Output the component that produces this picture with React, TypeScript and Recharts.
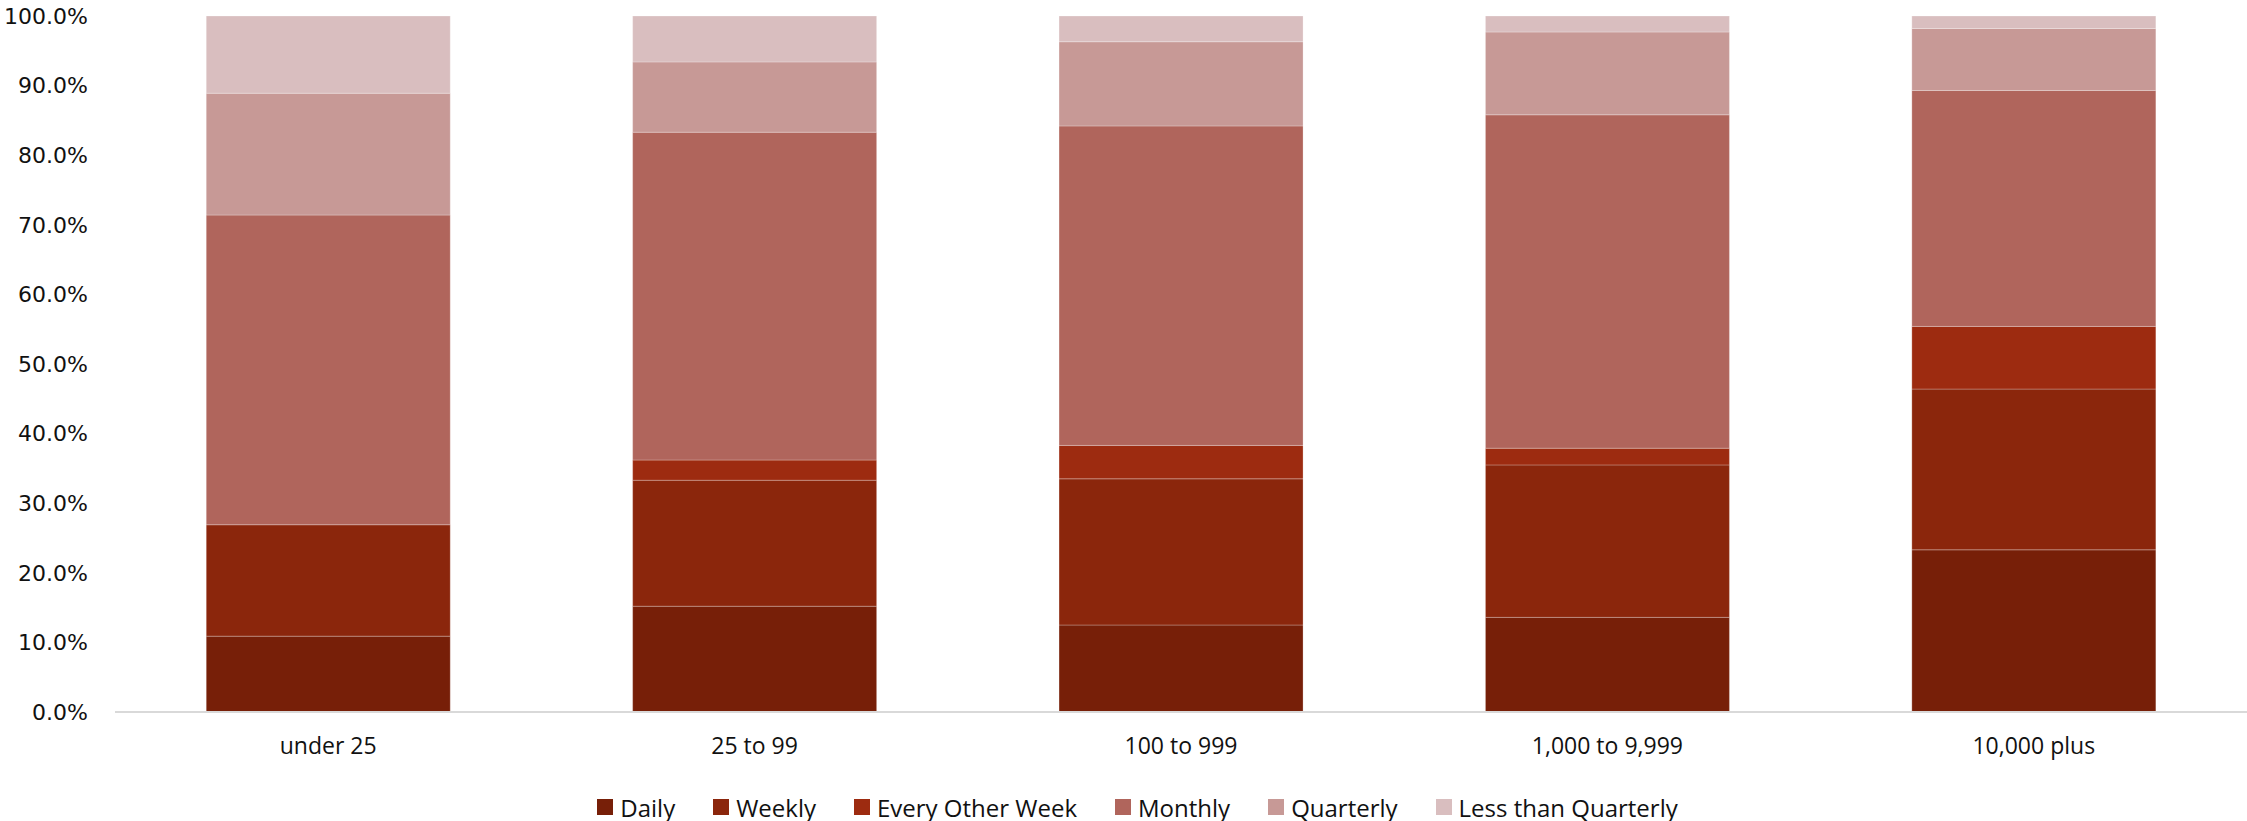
import React from 'react';
import { BarChart, Bar, XAxis, YAxis, Legend } from 'recharts';

const categories = ['under 25', '25 to 99', '100 to 999', '1,000 to 9,999', '10,000 plus'];

// percent of respondents, per company size
const daily = [10.9, 15.2, 12.5, 13.6, 23.3];
const weekly = [16.0, 18.1, 21.0, 21.9, 23.1];
const everyOtherWeek = [0.0, 2.9, 4.8, 2.4, 9.0];
const monthly = [44.5, 47.1, 45.9, 47.9, 33.9];
const quarterly = [17.5, 10.1, 12.1, 11.9, 8.9];
const lessThanQuarterly = [11.1, 6.6, 3.7, 2.3, 1.8];

const yTicks = [0, 10, 20, 30, 40, 50, 60, 70, 80, 90, 100];

const series = [
  { key: 'Daily', values: daily, color: '#771F08' },
  { key: 'Weekly', values: weekly, color: '#8B260C' },
  { key: 'Every Other Week', values: everyOtherWeek, color: '#9D2B10' },
  { key: 'Monthly', values: monthly, color: '#B0655C' },
  { key: 'Quarterly', values: quarterly, color: '#C79996' },
  { key: 'Less than Quarterly', values: lessThanQuarterly, color: '#D9BEBF' },
];

const data = categories.map((name, i) => {
  const row: any = { name };
  series.forEach((s) => {
    row[s.key] = s.values[i];
  });
  return row;
});

const LegendContent = () => (
  <div
    style={{
      height: 28,
      display: 'flex',
      alignItems: 'center',
      justifyContent: 'center',
      gap: 38,
      paddingLeft: 28,
      fontFamily: '"Open Sans", sans-serif',
      fontSize: 24,
      color: '#111',
    }}
  >
    {series.map((s) => (
      <div key={s.key} style={{ display: 'flex', alignItems: 'center' }}>
        <span style={{ width: 16, height: 16, background: s.color, marginRight: 7, display: 'inline-block' }} />
        <span>{s.key}</span>
      </div>
    ))}
  </div>
);

const App: React.FC = () => {
  return (
    <div style={{ position: 'absolute', left: 0, top: 0, background: '#fff' }}>
      <BarChart
        width={2247}
        height={821}
        data={data}
        barCategoryGap="21.4%"
        margin={{ top: 16, right: 0, left: 0, bottom: 0 }}
      >
        <XAxis
          dataKey="name"
          height={81}
          tickSize={0}
          tickMargin={26}
          axisLine={{ stroke: '#d9d9d9', strokeWidth: 2 }}
          tick={{ fill: '#111', fontSize: 23, fontFamily: '"Open Sans", sans-serif' }}
        />
        <YAxis
          width={115}
          domain={[0, 100]}
          ticks={yTicks}
          interval={0}
          tickSize={0}
          tickMargin={27}
          axisLine={false}
          tickFormatter={(v: number) => v.toFixed(1) + '%'}
          tick={{ fill: '#111', fontSize: 22, fontFamily: '"DejaVu Sans", sans-serif' }}
        />
        <Legend verticalAlign="bottom" content={<LegendContent />} />
        {series.map((s) => (
          <Bar
            key={s.key}
            dataKey={s.key}
            stackId="a"
            fill={s.color}
            stroke="#ffffff"
            strokeOpacity={0.25}
            strokeWidth={1}
            isAnimationActive={false}
          />
        ))}
      </BarChart>
    </div>
  );
};

export default App;
